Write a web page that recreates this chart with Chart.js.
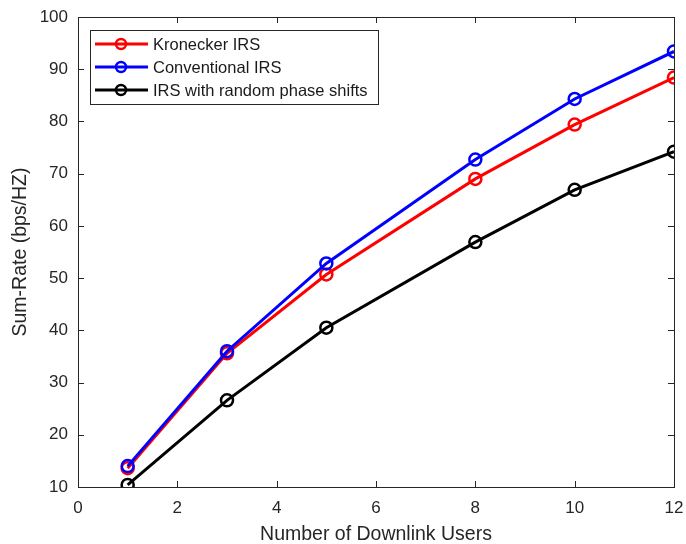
<!DOCTYPE html>
<html>
<head>
<meta charset="utf-8">
<script src="https://cdn.jsdelivr.net/npm/chart.js@4.4.1/dist/chart.umd.min.js"></script>
<style>
  html, body { margin: 0; padding: 0; background: #fff; }
  #wrap { width: 686px; height: 544px; }
</style>
</head>
<body>
<div id="wrap"><canvas id="rateChart" width="686" height="544"></canvas></div>
<script>
// values
const users = [1, 3, 5, 8, 10, 12];
const kronecker = [13.6, 35.6, 50.7, 69.0, 79.4, 88.4];
const conventional = [14.0, 36.0, 52.8, 72.7, 84.3, 93.4];
const randomPhase = [10.4, 26.6, 40.5, 56.9, 66.9, 74.2];
const xTicks = [0, 2, 4, 6, 8, 10, 12];
const yTicks = [10, 20, 30, 40, 50, 60, 70, 80, 90, 100];

const seriesNames = ["Kronecker IRS", "Conventional IRS", "IRS with random phase shifts"];
const seriesColors = ["#ff0000", "#0000ff", "#000000"];

const FONT = "'Liberation Sans', Arial, sans-serif";
const TEXT = "#262626";

function toPoints(vals) {
  return users.map((u, i) => ({ x: u, y: vals[i] }));
}

function makeSet(label, vals, color, order) {
  return {
    label: label,
    data: toPoints(vals),
    borderColor: color,
    backgroundColor: "rgba(0,0,0,0)",
    borderWidth: 3,
    pointRadius: 6,
    pointBorderWidth: 2.5,
    pointBackgroundColor: "rgba(0,0,0,0)",
    pointBorderColor: color,
    tension: 0,
    order: order
  };
}

// box + inward ticks like MATLAB, plus the legend
const matlabBox = {
  id: "matlabBox",
  afterDraw(chart) {
    const { ctx, chartArea: a, scales } = chart;
    ctx.save();
    ctx.strokeStyle = "#262626";
    ctx.lineWidth = 1;
    ctx.strokeRect(Math.round(a.left) + 0.5, Math.round(a.top) + 0.5,
      Math.round(a.right - a.left), Math.round(a.bottom - a.top));
    const tl = 6;
    ctx.beginPath();
    xTicks.forEach(v => {
      const px = Math.round(scales.x.getPixelForValue(v)) + 0.5;
      ctx.moveTo(px, a.bottom); ctx.lineTo(px, a.bottom - tl);
      ctx.moveTo(px, a.top); ctx.lineTo(px, a.top + tl);
    });
    yTicks.forEach(v => {
      const py = Math.round(scales.y.getPixelForValue(v)) + 0.5;
      ctx.moveTo(a.left, py); ctx.lineTo(a.left + tl, py);
      ctx.moveTo(a.right, py); ctx.lineTo(a.right - tl, py);
    });
    ctx.stroke();

    // legend
    const lx = 90, ly = 30, lw = 288, lh = 74;
    ctx.fillStyle = "#fff";
    ctx.fillRect(lx, ly, lw, lh);
    ctx.strokeStyle = "#262626";
    ctx.strokeRect(lx + 0.5, ly + 0.5, lw, lh);
    ctx.font = "16.5px " + FONT;
    ctx.textBaseline = "middle";
    seriesNames.forEach((name, i) => {
      const cy = ly + 14 + i * 23;
      ctx.strokeStyle = seriesColors[i];
      ctx.lineWidth = 3;
      ctx.beginPath();
      ctx.moveTo(lx + 5, cy); ctx.lineTo(lx + 58, cy);
      ctx.stroke();
      ctx.lineWidth = 2.5;
      ctx.beginPath();
      ctx.arc(lx + 31, cy, 5, 0, Math.PI * 2);
      ctx.stroke();
      ctx.fillStyle = "#1a1a1a";
      ctx.fillText(name, lx + 63, cy + 1);
    });
    ctx.restore();
  }
};

const ctx = document.getElementById("rateChart").getContext("2d");
new Chart(ctx, {
  type: "line",
  data: {
    datasets: [
      makeSet(seriesNames[0], kronecker, seriesColors[0], 2),
      makeSet(seriesNames[1], conventional, seriesColors[1], 1),
      makeSet(seriesNames[2], randomPhase, seriesColors[2], 0)
    ]
  },
  options: {
    responsive: false,
    animation: false,
    layout: { padding: { left: 0, top: 17, right: 12, bottom: 0 } },
    plugins: {
      legend: { display: false },
      tooltip: { enabled: false }
    },
    scales: {
      x: {
        type: "linear",
        min: 0, max: 12,
        afterBuildTicks: s => { s.ticks = xTicks.map(v => ({ value: v })); },
        afterFit: s => { s.height = 57; s.paddingLeft = 0; s.paddingRight = 0; },
        grid: { display: false, drawTicks: false },
        border: { display: false },
        ticks: { color: TEXT, font: { family: FONT, size: 17 }, padding: 11, maxRotation: 0 },
        title: { display: true, text: "Number of Downlink Users", color: TEXT,
                 font: { family: FONT, size: 19.5, lineHeight: 1 }, padding: { top: 0, bottom: 0 } }
      },
      y: {
        min: 10, max: 100,
        afterBuildTicks: s => { s.ticks = yTicks.map(v => ({ value: v })); },
        afterFit: s => { s.width = 78; s.paddingTop = 0; s.paddingBottom = 0; },
        grid: { display: false, drawTicks: false },
        border: { display: false },
        ticks: { color: TEXT, font: { family: FONT, size: 17 }, padding: 10 },
        title: { display: true, text: "Sum-Rate (bps/HZ)", color: TEXT,
                 font: { family: FONT, size: 19.5 }, padding: { top: 9, bottom: 0 } }
      }
    }
  },
  plugins: [matlabBox]
});
</script>
</body>
</html>
